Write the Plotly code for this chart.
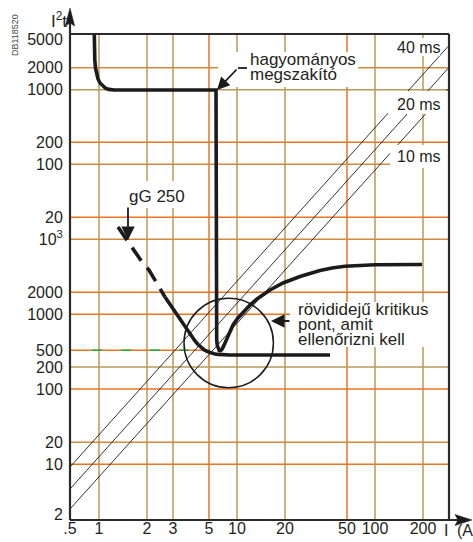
import plotly.graph_objects as go

# ---------------- style ----------------
FONT = "Liberation Sans, Arial, sans-serif"
INK = "#231F20"
ORANGE = "#E8751F"
TAN = "#B8995A"
MIX = "#CF8A3E"
GREEN = "#1FAA4B"

# ---------------- axes (schematic grid positions, lower-left corner = 0) ----------------
X_MAX = 379
Y_MAX = 486
X_TICK_LABELS = [".5", "1", "2", "3", "5", "10", "20", "50", "100", "200"]
X_TICK_POS = [0, 29, 77, 103, 139, 167, 215, 277, 305, 353]
X_GRID_COLORS = [None, TAN, TAN, TAN, ORANGE, TAN, TAN, ORANGE, TAN, TAN]

Y_TICK_LABELS = ["2", "10", "20", "100", "200", "500", "1000", "2000", "10<sup>3</sup>",
                 "20", "100", "200", "1000", "2000", "5000"]
Y_TICK_POS = [0, 55.7, 77.7, 131, 153, 169.7, 205.7, 227.7, 280.7,
              302.7, 355.7, 377.7, 430.3, 452.3, 486]
Y_LABEL_POS = [6, 55.7, 77.7, 131, 153, 169.7, 205.7, 227.7, 280.7,
               302.7, 355.7, 377.7, 430.3, 452.3, 481]
Y_GRID_COLORS = [None, ORANGE, MIX, ORANGE, TAN, ORANGE, ORANGE, ORANGE, MIX,
                 ORANGE, MIX, ORANGE, TAN, MIX, None]
Y_500_LINE_END = 140          # the 500 line stops at the fuse curve
GREEN_DASH_START = 22

# ---------------- curves ----------------
breaker_x = [24.3, 24.4, 24.8, 25.5, 26.5, 28, 30, 32.5, 35.5, 39, 44, 146,
             146.2, 146.4, 146.7, 147.2, 148, 149.2, 150.5, 151.8, 153.5, 156, 159, 163,
             168, 173, 180, 187, 200, 213, 230, 250, 262, 275, 290, 305, 352]
breaker_y = [486, 470, 460, 452, 446, 441, 437, 434, 431.8, 430.6, 430, 430,
             250, 190, 180, 175, 171.5, 169.5, 169.3, 170.5, 173.5, 179, 186, 195,
             202, 208, 215, 221, 230, 237, 243.5, 249.5, 252, 253.7, 254.7, 255.2, 255.5]

fuse_dash_x = [48, 57, 63, 72, 79, 89, 95]
fuse_dash_y = [293, 280, 272, 258, 250, 232, 223]

fuse_x = [95, 100, 105, 110, 115, 119, 122, 125, 128, 131, 134, 137, 140, 144, 148,
          154, 160, 260]
fuse_y = [223, 215.5, 208, 200, 192.5, 186.5, 182.5, 179, 175.5, 172.5, 170.3, 168.6,
          167.4, 166.3, 165.6, 165.2, 165, 165]

t40_x = [0, 378]
t40_y = [53, 473.5]
t20_x = [0, 378]
t20_y = [31, 451.5]
t10_x = [0, 378]
t10_y = [11, 431]

CIRCLE_CX, CIRCLE_CY, CIRCLE_R = 158.7, 177, 44.7

fig = go.Figure()

thin = dict(color="#1b1b1b", width=0.9)
for xs, ys in [(t40_x, t40_y), (t20_x, t20_y), (t10_x, t10_y)]:
    fig.add_trace(go.Scatter(x=xs, y=ys, mode="lines", line=thin, hoverinfo="skip"))

# green dashes on the 500 line
fig.add_trace(go.Scatter(x=[GREEN_DASH_START, Y_500_LINE_END], y=[Y_TICK_POS[5]] * 2,
                         mode="lines", line=dict(color=GREEN, width=1.6, dash="10px,19px"),
                         hoverinfo="skip"))

fig.add_trace(go.Scatter(x=breaker_x, y=breaker_y, mode="lines",
                         line=dict(color="#1b1b1b", width=3.6), hoverinfo="skip"))
fig.add_trace(go.Scatter(x=fuse_dash_x, y=fuse_dash_y, mode="lines",
                         line=dict(color="#1b1b1b", width=3.6, dash="16px,9px"), hoverinfo="skip"))
fig.add_trace(go.Scatter(x=fuse_x, y=fuse_y, mode="lines",
                         line=dict(color="#1b1b1b", width=3.6), hoverinfo="skip"))

# ---------------- shapes ----------------
shapes = []
for xv, c in zip(X_TICK_POS, X_GRID_COLORS):
    if c:
        shapes.append(dict(type="line", xref="x", yref="y", x0=xv, x1=xv, y0=0, y1=Y_MAX,
                           line=dict(color=c, width=1.5), layer="below"))
for i, (yv, c) in enumerate(zip(Y_TICK_POS, Y_GRID_COLORS)):
    if c:
        x_end = Y_500_LINE_END if i == 5 else X_MAX
        shapes.append(dict(type="line", xref="x", yref="y", x0=0, x1=x_end, y0=yv, y1=yv,
                           line=dict(color=c, width=1.5), layer="below"))

# white boxes behind labels
label_boxes = [
    (148, 288, 433, 468),   # hagyományos megszakító
    (54, 120, 312, 339),    # gG 250
    (220, 378, 173, 218),   # rövididejű ...
    (325, 370, 464, 482),   # 40 ms
    (318, 378, 406, 429),   # 20 ms
    (320, 378, 352, 375),   # 10 ms
]
for x0, x1, y0, y1 in label_boxes:
    shapes.append(dict(type="rect", xref="x", yref="y", x0=x0, x1=x1, y0=y0, y1=y1,
                       fillcolor="white", line=dict(width=0), layer="above"))

# circle around the critical point
shapes.append(dict(type="circle", xref="x", yref="y",
                   x0=CIRCLE_CX - CIRCLE_R, x1=CIRCLE_CX + CIRCLE_R,
                   y0=CIRCLE_CY - CIRCLE_R, y1=CIRCLE_CY + CIRCLE_R,
                   line=dict(color="#1b1b1b", width=1.5), layer="above"))

# short horizontal part of the bent arrow
shapes.append(dict(type="line", xref="x", yref="y", x0=168, x1=177, y0=452, y1=452,
                   line=dict(color="#1b1b1b", width=1.8), layer="above"))

# frame and axes
frame = dict(color="#2a2a2a", width=2.2)
shapes += [
    dict(type="line", xref="paper", yref="paper", x0=0, x1=1, y0=1, y1=1, line=frame, layer="above"),
    dict(type="line", xref="paper", yref="paper", x0=1, x1=1, y0=0, y1=1, line=frame, layer="above"),
    dict(type="line", xref="paper", yref="paper", x0=0, x1=0, y0=0, y1=1.023, line=frame, layer="above"),
    dict(type="line", xref="paper", yref="paper", x0=0, x1=1.024, y0=0, y1=0, line=frame, layer="above"),
    dict(type="path", xref="paper", yref="paper",
         path="M 0,1.0535 L -0.0124,1.0165 L 0,1.0226 L 0.0124,1.0165 Z",
         fillcolor="#1b1b1b", line=dict(color="#1b1b1b", width=0.5), layer="above"),
    dict(type="path", xref="paper", yref="paper",
         path="M 1.0607,0 L 1.0158,0.0113 L 1.0237,0 L 1.0158,-0.0113 Z",
         fillcolor="#1b1b1b", line=dict(color="#1b1b1b", width=0.5), layer="above"),
]

# ---------------- annotations ----------------
def txt(x, y, s, size=17, xanchor="left"):
    return dict(x=x, y=y, xref="x", yref="y", text=s, showarrow=False, xanchor=xanchor,
                yanchor="middle", font=dict(family=FONT, size=size, color=INK))

def arrow(x, y, ax, ay, size=1.5):
    return dict(x=x, y=y, ax=ax, ay=ay, xref="x", yref="y", axref="x", ayref="y", text="",
                showarrow=True, arrowhead=2, arrowsize=size, arrowwidth=1.8, arrowcolor="#1b1b1b",
                standoff=0)

annotations = [
    txt(178, 461, "hagyományos"),
    txt(178, 446, "megszakító"),
    txt(57, 324, "gG 250"),
    txt(226, 211, "rövididejű kritikus"),
    txt(226, 196, "pont, amit"),
    txt(226, 181, "ellenőrizni kell"),
    txt(349, 472.5, "40 ms", size=16, xanchor="center"),
    txt(349, 416, "20 ms", size=16, xanchor="center"),
    txt(349, 364, "10 ms", size=16, xanchor="center"),
    arrow(147, 430, 168, 452, size=1.4),
    arrow(58, 280, 58, 314, size=1.5),
    arrow(201, 199, 221, 199, size=1.5),
    dict(x=-0.029, y=1.0288, xref="paper", yref="paper", text="I<sup>2</sup>t", showarrow=False,
         font=dict(family=FONT, size=17, color=INK), xanchor="center", yanchor="middle"),
    dict(x=-0.145, y=0.998, xref="paper", yref="paper", text="DB118520", showarrow=False,
         textangle=-90, font=dict(family=FONT, size=9, color="#444444"),
         xanchor="center", yanchor="middle"),
    dict(x=0.9934, y=-0.0226, xref="paper", yref="paper", text="I", showarrow=False,
         font=dict(family=FONT, size=16, color=INK), xanchor="center", yanchor="middle"),
    dict(x=1.0158, y=-0.0226, xref="paper", yref="paper", text="(A)", showarrow=False,
         font=dict(family=FONT, size=16, color=INK), xanchor="left", yanchor="middle"),
]

fig.update_layout(
    width=473, height=542,
    margin=dict(l=70, r=24, t=34, b=22, autoexpand=False),
    paper_bgcolor="white", plot_bgcolor="white",
    showlegend=False,
    shapes=shapes,
    annotations=annotations,
)
fig.update_xaxes(range=[0, X_MAX], tickvals=X_TICK_POS, ticktext=X_TICK_LABELS,
                 showgrid=False, zeroline=False, showline=False, automargin=False,
                 ticks="", ticklabelstandoff=-3,
                 tickfont=dict(family=FONT, size=16, color=INK), fixedrange=True)
fig.update_yaxes(range=[0, Y_MAX], tickvals=Y_LABEL_POS, ticktext=Y_TICK_LABELS,
                 showgrid=False, zeroline=False, showline=False, automargin=False,
                 ticks="outside", ticklen=3, tickcolor="rgba(0,0,0,0)",
                 tickfont=dict(family=FONT, size=16, color=INK), fixedrange=True)

# the page itself has no margin so the 473x542 figure fills the window exactly
fig.write_html("out.html", config={"displayModeBar": False},
               post_script="document.body.style.margin='0';")
